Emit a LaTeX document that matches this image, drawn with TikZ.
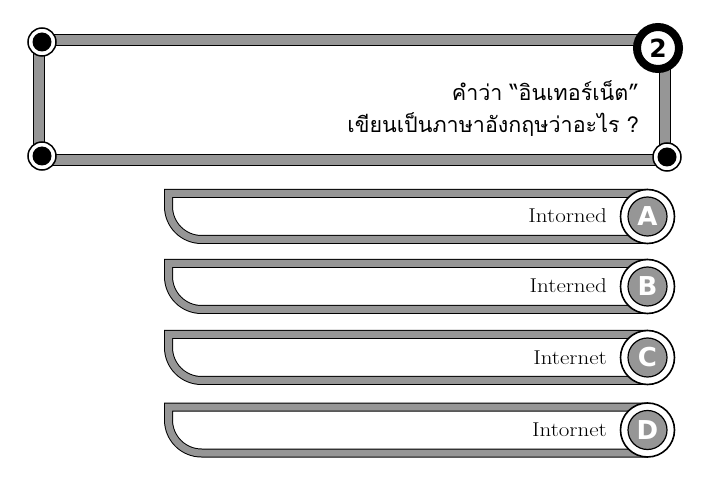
\documentclass[tikz,border=0pt]{standalone}
\usepackage{fontspec}
\newfontfamily\thaifont[Script=Thai]{Loma}
\newfontfamily\badgefont{DejaVu Sans}
\newfontfamily\optfont{Latin Modern Roman}[FakeStretch=1.15]
\definecolor{barGray}{RGB}{150,150,150}
\tikzset{
  framebar/.style={draw=black, line width=1.3pt, double=barGray, double distance=10pt, line cap=butt},
  optbar/.style={draw=black, line width=1pt, double=barGray, double distance=7pt, line join=miter, line cap=butt},
  cornerring/.style={circle, draw=black, fill=white, line width=1.5pt, minimum size=28pt, inner sep=0pt},
  cornerdot/.style={circle, fill=black, minimum size=19pt, inner sep=0pt},
  numring/.style={circle, draw=black, fill=white, line width=8pt, minimum size=42pt, inner sep=0pt,
     font=\badgefont\bfseries\fontsize{25}{25}\selectfont},
  badgering/.style={circle, draw=black, fill=white, line width=1.6pt, minimum size=54pt, inner sep=0pt},
  badgedisk/.style={circle, draw=black, fill=barGray, line width=1.2pt, minimum size=39pt, inner sep=0pt,
     text=white, font=\badgefont\bfseries\fontsize{26}{26}\selectfont},
  opttext/.style={anchor=base east, inner sep=0pt, font=\optfont\fontsize{20}{20}\selectfont},
  thaitext/.style={anchor=base east, inner sep=0pt, font=\thaifont\fontsize{21.5}{21.5}\selectfont}
}
\begin{document}
\begin{tikzpicture}[x=1pt,y=-1pt]
\useasboundingbox (0,0) rectangle (721,481);
% frame corner positions
\coordinate (tl) at (42,42);
\coordinate (bl) at (42,156);
\coordinate (br) at (667,157);
\coordinate (tr) at (658,48);
% frame bars
\draw[framebar] (42,40) -- (658,40);
\draw[framebar] (39,42) -- (39,157);
\draw[framebar] (42,160) -- (667,160);
\draw[framebar] (665,48) -- (665,157);
% corner circles
\node[cornerring] (ctl) at (tl) {};
\node[cornerdot] at (ctl) {};
\node[cornerring] (cbl) at (bl) {};
\node[cornerdot] at (cbl) {};
\node[cornerring] (cbr) at (br) {};
\node[cornerdot] at (cbr) {};
\node[numring] (num) at (tr) {2};
% question
\node[thaitext] (q1) at (639,101) {คำว่า “อินเทอร์เน็ต”};
\node[thaitext] (q2) at (639,133) {เขียนเป็นภาษาอังกฤษว่าอะไร ?};
% options
\foreach \c/\L/\T in {216.5/A/Intorned, 286.5/B/Interned, 357.5/C/Internet, 430/D/Intornet}{
  \draw[optbar] (647.5,\c-23) -- (168.5,\c-23) -- (168.5,\c-10)
     .. controls (168.5,\c+8.2) and (183.3,\c+23) .. (201.5,\c+23) -- (647.5,\c+23);
  \node[badgering] (ring\L) at (647.5,\c) {};
  \node[badgedisk] (badge\L) at (ring\L) {\L};
  \node[opttext] (opt\L) at (607,\c+6.5) {\T};
}
\end{tikzpicture}
\end{document}
